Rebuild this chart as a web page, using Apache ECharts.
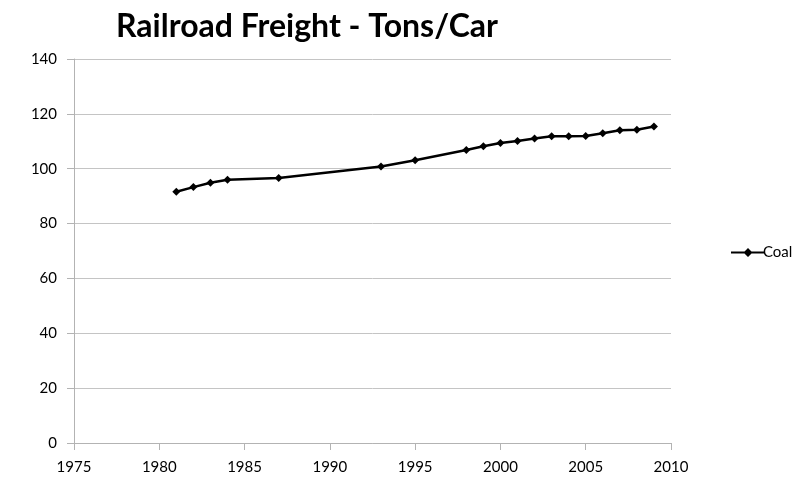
<!DOCTYPE html>
<html>
<head>
<meta charset="utf-8">
<script src="https://cdn.jsdelivr.net/npm/echarts@6/dist/echarts.min.js"></script>
<style>html,body{margin:0;padding:0;background:#fff}#c{width:800px;height:489px}</style>
</head>
<body>
<div id="c"></div>
<script>
const titleText = "Railroad Freight - Tons/Car";
const seriesName = "Coal";
const years = [1981, 1982, 1983, 1984, 1987, 1993, 1995, 1998, 1999, 2000, 2001, 2002, 2003, 2004, 2005, 2006, 2007, 2008, 2009];
const coal = [91.6, 93.3, 94.9, 96.0, 96.6, 100.8, 103.1, 106.8, 108.2, 109.4, 110.1, 111.0, 111.8, 111.8, 111.9, 112.9, 114.0, 114.2, 115.4];

const chart = echarts.init(document.getElementById('c'), null, {renderer: 'canvas'});
const font = "Lato, 'Open Sans', sans-serif";
chart.setOption({
  animation: false,
  backgroundColor: '#fff',
  title: {
    text: titleText,
    left: 302, top: 6, textAlign: 'center',
    textStyle: {fontFamily: font, fontWeight: 'bold', fontSize: 32, color: '#000'}
  },
  legend: {
    orient: 'vertical', left: 726, top: 240,
    itemWidth: 34, itemHeight: 9, itemGap: 4,
    textStyle: {fontFamily: font, fontSize: 15, color: '#000', padding: [0,0,0,-7]},
    data: [{name: seriesName, icon: 'path://M0,3.6L13.5,3.6L17,0L20.5,3.6L34,3.6L34,5.4L20.5,5.4L17,9L13.5,5.4L0,5.4Z'}]
  },
  grid: {left: 74, right: 129, top: 59, bottom: 46},
  xAxis: {
    type: 'value', min: 1975, max: 2010, interval: 5,
    axisLine: {show: true, lineStyle: {color: '#b3b3b3', width: 1}},
    axisTick: {show: true, length: 7, lineStyle: {color: '#b3b3b3'}},
    axisLabel: {fontFamily: font, fontSize: 15, color: '#000', margin: 17, formatter: v => String(v)},
    splitLine: {show: false}
  },
  yAxis: {
    type: 'value', min: 0, max: 140, interval: 20,
    axisLine: {show: true, lineStyle: {color: '#b3b3b3', width: 1}},
    axisTick: {show: true, length: 7, lineStyle: {color: '#b3b3b3'}},
    axisLabel: {fontFamily: font, fontSize: 15, color: '#000', margin: 17},
    splitLine: {show: true, lineStyle: {color: '#c4c4c4', width: 1}}
  },
  series: [{
    name: seriesName, type: 'line',
    data: years.map((y, i) => [y, coal[i]]),
    symbol: 'diamond', symbolSize: 8, showSymbol: true,
    lineStyle: {color: '#000', width: 2.5},
    itemStyle: {color: '#000'}
  }]
});
</script>
</body>
</html>
